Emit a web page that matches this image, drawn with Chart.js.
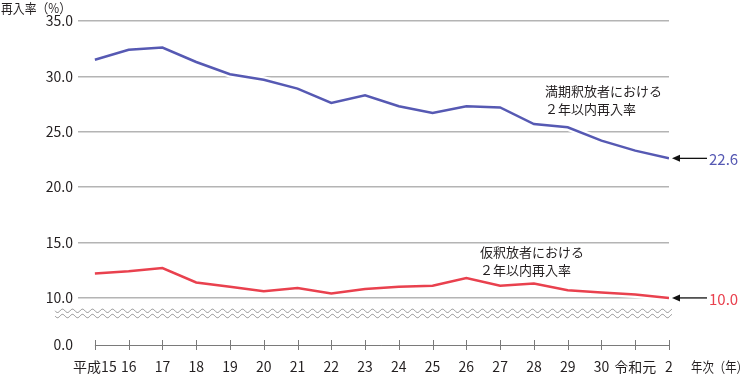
<!DOCTYPE html>
<html lang="ja">
<head>
<meta charset="UTF-8">
<title>2年以内再入率の推移</title>
<script src="https://cdn.jsdelivr.net/npm/chart.js@4"></script>
<style>
  html, body { margin: 0; padding: 0; background: #fff; }
  #wrap { width: 749px; height: 374px; position: relative; }
</style>
</head>
<body>
<div id="wrap"><canvas id="reentryChart"></canvas></div>
<script>
// 年次ラベル
const yearLabels = ['平成15', '16', '17', '18', '19', '20', '21', '22', '23', '24',
                    '25', '26', '27', '28', '29', '30', '令和元', '2'];

// 満期釈放者における2年以内再入率（%）
const fullTermRates = [31.5, 32.4, 32.6, 31.3, 30.2, 29.7, 28.9, 27.6, 28.3, 27.3,
                       26.7, 27.3, 27.2, 25.7, 25.4, 24.2, 23.3, 22.6];

// 仮釈放者における2年以内再入率（%）
const paroleRates = [12.2, 12.4, 12.7, 11.4, 11.0, 10.6, 10.9, 10.4, 10.8, 11.0,
                     11.1, 11.8, 11.1, 11.3, 10.7, 10.5, 10.3, 10.0];

// 縦軸の目盛り
const yTickValues = [10, 15, 20, 25, 30, 35];
// 軸の省略部分より下の位置（「0.0」と表示）
const yBreakValue = 5.75;

const FONT = "'Noto Sans CJK JP', 'Noto Sans', sans-serif";
const BLUE = '#5659b3';
const RED = '#e9414e';
const TEXT = '#231f20';

/**
 * 注記・矢印・省略線・横軸線を描くプラグイン
 */
const decorPlugin = {
    id: 'decor',
    afterDraw(chart) {
        const ctx = chart.ctx;
        const xs = chart.scales.x;
        const ys = chart.scales.y;
        const last = yearLabels.length - 1;

        ctx.save();

        // 縦軸タイトル
        ctx.fillStyle = TEXT;
        ctx.font = '13px ' + FONT;
        ctx.textAlign = 'left';
        ctx.textBaseline = 'middle';
        ctx.fillText('再入率（%）', 1, 8, 70);

        // 横軸タイトル
        ctx.font = '14px ' + FONT;
        ctx.fillText('年次（年）', 691, 367, 57);

        // 横軸の線と目盛り
        const axisY = ys.getPixelForValue(yBreakValue);
        ctx.strokeStyle = '#7a7a7a';
        ctx.lineWidth = 1;
        ctx.beginPath();
        ctx.moveTo(xs.getPixelForValue(0), axisY + 0.5);
        ctx.lineTo(xs.getPixelForValue(last), axisY + 0.5);
        for (let i = 0; i <= last; i++) {
            const px = Math.round(xs.getPixelForValue(i)) + 0.5;
            ctx.moveTo(px, axisY - 5);
            ctx.lineTo(px, axisY + 5);
        }
        ctx.stroke();

        // 省略線（波線2本）
        const waveCenter = ys.getPixelForValue(8.6);
        ctx.strokeStyle = '#8c8c8c';
        [-2.6, 2.6].forEach(function(off) {
            ctx.beginPath();
            for (let x = 55; x <= 672; x += 0.5) {
                const y = waveCenter + off + 1.7 * Math.sin((x - 55) / 10 * Math.PI * 2);
                if (x === 55) ctx.moveTo(x, y); else ctx.lineTo(x, y);
            }
            ctx.stroke();
        });

        // 系列名
        ctx.fillStyle = TEXT;
        ctx.font = '13px ' + FONT;
        ctx.textAlign = 'left';
        ctx.fillText('満期釈放者における', 545, 91);
        ctx.fillText('２年以内再入率', 545, 109);
        ctx.fillText('仮釈放者における', 480, 252);
        ctx.fillText('２年以内再入率', 480, 270);

        // 最新値の矢印とラベル
        drawArrowLabel(ctx, xs.getPixelForValue(last), ys.getPixelForValue(fullTermRates[last]),
                       fullTermRates[last], BLUE);
        drawArrowLabel(ctx, xs.getPixelForValue(last), ys.getPixelForValue(paroleRates[last]),
                       paroleRates[last], RED);

        ctx.restore();
    }
};

/**
 * 左向き矢印と数値を描く
 */
function drawArrowLabel(ctx, x, y, value, color) {
    const tip = x + 3;
    ctx.strokeStyle = '#111';
    ctx.fillStyle = '#111';
    ctx.lineWidth = 1.3;
    ctx.beginPath();
    ctx.moveTo(tip + 6, y);
    ctx.lineTo(tip + 35, y);
    ctx.stroke();
    ctx.beginPath();
    ctx.moveTo(tip, y);
    ctx.lineTo(tip + 8, y - 3.5);
    ctx.lineTo(tip + 8, y + 3.5);
    ctx.closePath();
    ctx.fill();

    ctx.fillStyle = color;
    ctx.font = '15px ' + FONT;
    ctx.textAlign = 'left';
    ctx.textBaseline = 'middle';
    ctx.fillText(value.toFixed(1), x + 40, y + 1);
}

const ctx = document.getElementById('reentryChart').getContext('2d');
const reentryChart = new Chart(ctx, {
    type: 'line',
    data: {
        datasets: [
            {
                label: '満期釈放者',
                data: fullTermRates.map((v, i) => ({ x: i, y: v })),
                borderColor: BLUE,
                borderWidth: 2.5,
                pointRadius: 0,
                order: 0
            },
            {
                label: '仮釈放者',
                data: paroleRates.map((v, i) => ({ x: i, y: v })),
                borderColor: RED,
                borderWidth: 2.5,
                pointRadius: 0,
                order: 0
            },
            // 線の白い縁取り
            {
                data: fullTermRates.map((v, i) => ({ x: i, y: v })),
                borderColor: '#ffffff',
                borderWidth: 7,
                pointRadius: 0,
                order: 1
            },
            {
                data: paroleRates.map((v, i) => ({ x: i, y: v })),
                borderColor: '#ffffff',
                borderWidth: 7,
                pointRadius: 0,
                order: 1
            }
        ]
    },
    options: {
        responsive: true,
        maintainAspectRatio: false,
        animation: false,
        layout: { padding: { top: 21, right: 80, bottom: 0, left: 0 } },
        plugins: {
            legend: { display: false },
            tooltip: { enabled: false }
        },
        scales: {
            x: {
                type: 'linear',
                min: -0.5,
                max: yearLabels.length - 1,
                afterBuildTicks(scale) {
                    scale.ticks = yearLabels.map((l, i) => ({ value: i }));
                },
                afterFit(scale) { scale.height = 29; },
                grid: { display: false, drawTicks: false },
                border: { display: false },
                ticks: {
                    autoSkip: false,
                    maxRotation: 0,
                    padding: 13,
                    color: TEXT,
                    font: { family: FONT, size: 14 },
                    callback: (value) => yearLabels[value]
                }
            },
            y: {
                min: yBreakValue,
                max: 35,
                afterBuildTicks(scale) {
                    scale.ticks = [yBreakValue].concat(yTickValues).map(v => ({ value: v }));
                },
                afterFit(scale) { scale.width = 78; },
                grid: {
                    drawTicks: false,
                    lineWidth: 1.5,
                    color: (c) => c.tick && c.tick.value === yBreakValue ? 'rgba(0,0,0,0)' : '#b4b4b4'
                },
                border: { display: false },
                ticks: {
                    padding: 5,
                    color: TEXT,
                    font: { family: FONT, size: 14 },
                    callback: (value) => value === yBreakValue ? '0.0' : value.toFixed(1)
                }
            }
        }
    },
    plugins: [decorPlugin]
});
</script>
</body>
</html>
